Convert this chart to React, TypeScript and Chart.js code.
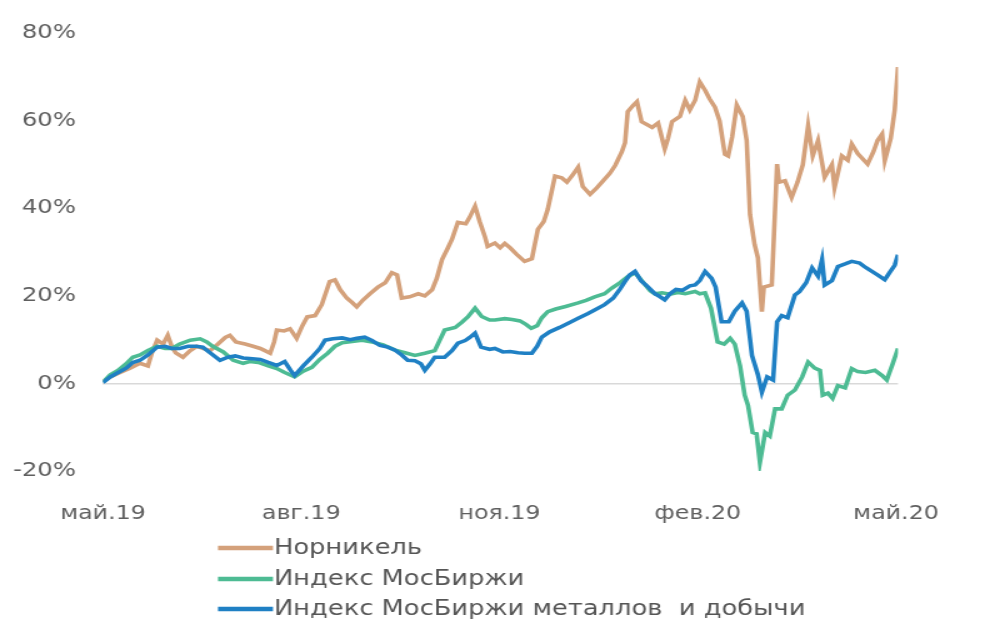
import React, { useEffect, useRef } from 'react';
import { Chart, registerables } from 'chart.js';

Chart.register(...registerables);

// ---- Data (x = months since May 2019, y = % change) ----
const XTICK_POS = [0, 3, 6, 9, 12];
const XTICK_LABELS = ['май.19', 'авг.19', 'ноя.19', 'фев.20', 'май.20'];
const YTICKS = [-20, 0, 20, 40, 60, 80];

const SERIES_NAMES = ['Норникель', 'Индекс МосБиржи', 'Индекс МосБиржи металлов  и добычи'];
const SERIES_COLORS = ['#D4A17B', '#4DBB93', '#1F80C4'];

const NORN_X = [0,0.11,0.26,0.41,0.56,0.68,0.74,0.82,0.91,0.98,1.04,1.10,1.21,1.32,1.42,1.51,1.62,1.74,1.85,1.92,2.01,2.15,2.27,2.38,2.45,2.53,2.59,2.63,2.74,2.83,2.93,3.01,3.09,3.21,3.31,3.43,3.51,3.59,3.69,3.77,3.84,3.93,4.04,4.16,4.27,4.37,4.45,4.52,4.64,4.77,4.87,4.98,5.05,5.13,5.22,5.28,5.37,5.49,5.55,5.63,5.70,5.78,5.82,5.93,6.01,6.08,6.16,6.26,6.38,6.49,6.58,6.67,6.73,6.84,6.94,7.02,7.10,7.19,7.26,7.37,7.46,7.55,7.67,7.75,7.85,7.90,7.94,8.02,8.08,8.15,8.25,8.31,8.40,8.50,8.55,8.61,8.73,8.81,8.88,8.96,9.03,9.11,9.18,9.26,9.33,9.41,9.46,9.52,9.59,9.68,9.74,9.79,9.86,9.91,9.97,10.00,10.12,10.20,10.23,10.32,10.42,10.51,10.59,10.67,10.74,10.82,10.92,11.03,11.07,11.18,11.27,11.33,11.42,11.57,11.66,11.72,11.79,11.83,11.92,11.98,12.03];
const NORN_Y = [0.5,1.5,2.5,3.5,4.6,4.0,7,9.9,9,11,8.5,7,6,7.5,8.5,8,7.5,9,10.5,11,9.5,9,8.5,8,7.5,6.9,9.5,12.2,12,12.5,10.3,13,15.2,15.5,18,23.3,23.7,21.4,19.5,18.5,17.5,19,20.5,22,23,25.3,24.8,19.5,19.8,20.5,20,21.4,24,28.3,31,32.9,36.8,36.5,38,40.5,37,33.5,31.3,32.1,31,32,31,29.5,27.9,28.5,35.2,37,39.8,47.4,47,46,47.5,49.4,45,43.2,44.5,46,48,49.8,52.9,55,62.1,63.5,64.4,59.8,59,58.5,59.5,53.6,56,59.8,61,64.7,62.5,64.7,68.9,67,65,63.1,60,52.4,52,56.3,63.6,61,55.5,38.6,31.7,28.7,16.4,22,22.5,50.1,46,46.3,42.5,46,50,58.9,52,55.5,47.1,50,44.7,52,51,54.7,52.5,50.1,53,55.5,57,50.9,56,62.4,72.3];

const IMOEX_X = [0,0.11,0.23,0.35,0.45,0.56,0.68,0.82,0.94,1.04,1.16,1.32,1.47,1.57,1.66,1.82,1.97,2.12,2.22,2.35,2.50,2.63,2.75,2.90,3.03,3.16,3.28,3.40,3.51,3.62,3.77,3.92,4.07,4.24,4.42,4.57,4.72,4.87,5.02,5.10,5.17,5.33,5.43,5.52,5.63,5.73,5.85,5.93,6.08,6.19,6.31,6.40,6.48,6.57,6.64,6.73,6.85,7.00,7.19,7.31,7.44,7.59,7.70,7.82,7.94,8.05,8.15,8.28,8.35,8.46,8.58,8.70,8.81,8.96,9.03,9.11,9.20,9.30,9.40,9.49,9.56,9.64,9.71,9.76,9.83,9.89,9.94,10.02,10.09,10.17,10.27,10.36,10.47,10.58,10.67,10.77,10.85,10.89,10.97,11.04,11.12,11.23,11.33,11.42,11.54,11.68,11.79,11.86,11.95,12.03];
const IMOEX_Y = [0.3,2,3,4.5,6,6.5,7.5,8.5,8,8,9,9.9,10.2,9.5,8.5,7.2,5.3,4.6,5,4.8,4,3.4,2.5,1.5,2.8,3.7,5.5,6.9,8.5,9.3,9.6,9.9,9.5,8.8,7.6,7,6.4,6.9,7.5,10,12.2,12.8,14,15.2,17.2,15.3,14.5,14.5,14.8,14.6,14.3,13.5,12.6,13.2,15,16.4,17,17.6,18.4,19,19.8,20.5,21.8,23,24.4,25.3,23.5,21.2,20.5,20.7,20.4,20.8,20.5,21,20.5,20.7,17.2,9.5,9,10.3,9,4,-2.7,-5,-11.2,-11.5,-18.1,-11.2,-12,-5.8,-5.8,-2.7,-1.5,1.5,4.9,3.5,3,-2.7,-2.2,-3.4,-0.5,-1,3.4,2.7,2.5,3,1.8,0.8,4.5,8];

const METAL_X = [0,0.11,0.23,0.35,0.45,0.56,0.68,0.82,0.94,1.04,1.16,1.29,1.41,1.51,1.62,1.77,1.89,2.00,2.12,2.22,2.38,2.50,2.63,2.75,2.84,2.90,3.03,3.16,3.28,3.36,3.48,3.62,3.74,3.84,3.96,4.07,4.19,4.31,4.42,4.52,4.61,4.72,4.81,4.87,4.95,5.02,5.17,5.28,5.37,5.48,5.55,5.63,5.72,5.85,5.93,6.05,6.16,6.28,6.38,6.49,6.57,6.64,6.76,6.91,7.07,7.19,7.34,7.44,7.59,7.72,7.82,7.90,7.97,8.05,8.14,8.25,8.35,8.43,8.50,8.58,8.67,8.77,8.88,8.96,9.03,9.11,9.21,9.27,9.36,9.47,9.56,9.67,9.74,9.82,9.91,9.97,10.05,10.14,10.20,10.27,10.36,10.47,10.54,10.64,10.73,10.82,10.88,10.92,11.03,11.12,11.23,11.33,11.45,11.54,11.72,11.83,11.91,11.98,12.03];
const METAL_Y = [0.2,1.5,2.5,3.5,4.8,5.3,6.5,8.3,8.5,8,8,8.5,8.5,8.3,7,5.3,6,6.3,5.8,5.7,5.5,4.8,4.1,5,3,1.8,4,6,8,9.9,10.2,10.4,10,10.3,10.6,9.8,8.7,8.3,7.6,6.5,5.3,5.2,4.5,3,4.5,6,6,7.5,9.2,9.8,10.5,11.5,8.3,7.8,8,7.2,7.3,7,6.9,6.9,8.5,10.6,11.8,12.8,14,14.9,16,16.8,18,19.5,21.5,23.3,24.8,25.6,23.5,22,20.5,19.8,19.1,20.5,21.5,21.3,22.3,22.5,23.5,25.6,24,22,14.1,14.1,16.5,18.4,16.5,6.4,2,-2,1.5,0.8,14.1,15.5,15,20.2,21,23,26.4,24.5,28.3,22.5,23.5,26.7,27.3,27.9,27.5,26.5,24.8,23.7,25.5,27,29.4];

// ---- Layout ----
const STRETCH = 1.25;
const PAGE_W = 1000;
const PAGE_H = 634;
const CW = PAGE_W / STRETCH;
const FONT = "'DejaVu Sans', sans-serif";
const TEXT = '#5F5F5F';

const pairs = (xs: number[], ys: number[]) => xs.map((x, i) => ({ x, y: ys[i] }));

const legendPlugin = {
  id: 'listLegend',
  afterDraw(chart: any) {
    const ctx = chart.ctx;
    const rows = [548, 579, 609];
    ctx.save();
    SERIES_NAMES.forEach((name, i) => {
      const y = rows[i];
      ctx.strokeStyle = SERIES_COLORS[i];
      ctx.lineWidth = 4.5;
      ctx.lineCap = 'butt';
      ctx.beginPath();
      ctx.moveTo(218 / STRETCH, y);
      ctx.lineTo(273 / STRETCH, y);
      ctx.stroke();
      ctx.fillStyle = '#555555';
      ctx.font = `20.6px ${FONT}`;
      ctx.textBaseline = 'middle';
      ctx.textAlign = 'left';
      ctx.fillText(name, 274 / STRETCH, y + 1);
    });
    ctx.restore();
  },
};

export default function App() {
  const ref = useRef<HTMLCanvasElement | null>(null);

  useEffect(() => {
    document.body.style.margin = '0';
    const canvas = ref.current;
    if (!canvas) return;
    const lastX = NORN_X[NORN_X.length - 1];
    const chart = new Chart(canvas, {
      type: 'line',
      data: {
        datasets: [
          {
            label: SERIES_NAMES[2],
            data: pairs(METAL_X, METAL_Y),
            borderColor: SERIES_COLORS[2],
            backgroundColor: SERIES_COLORS[2],
            borderWidth: 3.6,
            pointRadius: 0,
            tension: 0,
          },
          {
            label: SERIES_NAMES[1],
            data: pairs(IMOEX_X, IMOEX_Y),
            borderColor: SERIES_COLORS[1],
            backgroundColor: SERIES_COLORS[1],
            borderWidth: 3.6,
            pointRadius: 0,
            tension: 0,
          },
          {
            label: SERIES_NAMES[0],
            data: pairs(NORN_X, NORN_Y),
            borderColor: SERIES_COLORS[0],
            backgroundColor: SERIES_COLORS[0],
            borderWidth: 3.6,
            pointRadius: 0,
            tension: 0,
          },
        ],
      },
      options: {
        animation: false,
        responsive: false,
        maintainAspectRatio: false,
        layout: { padding: { top: 33, right: CW - 898 / STRETCH, left: 0, bottom: 0 } },
        plugins: { legend: { display: false }, tooltip: { enabled: false } },
        scales: {
          x: {
            type: 'linear',
            min: 0,
            max: lastX,
            afterBuildTicks: (s: any) => {
              s.ticks = XTICK_POS.map((v) => ({ value: v }));
            },
            afterFit: (s: any) => {
              s.height = PAGE_H - 471;
            },
            grid: { display: false, drawTicks: false },
            border: { display: false },
            ticks: {
              autoSkip: false,
              maxRotation: 0,
              padding: 32,
              color: TEXT,
              font: { family: FONT, size: 19 },
              callback: (v: any) => {
                const i = XTICK_POS.indexOf(Number(v));
                return i >= 0 ? XTICK_LABELS[i] : '';
              },
            },
          },
          y: {
            min: YTICKS[0],
            max: YTICKS[YTICKS.length - 1],
            afterBuildTicks: (s: any) => {
              s.ticks = YTICKS.map((v) => ({ value: v }));
            },
            afterFit: (s: any) => {
              s.width = 103 / STRETCH;
            },
            grid: {
              drawTicks: false,
              lineWidth: 1.6,
              color: (c: any) => (c.tick && c.tick.value === 0 ? '#D9D9D9' : 'rgba(0,0,0,0)'),
            },
            border: { display: false },
            ticks: {
              padding: 103 / STRETCH - 76 / STRETCH,
              color: TEXT,
              font: { family: FONT, size: 19.5 },
              callback: (v: any) => `${v}%`,
            },
          },
        },
      },
      plugins: [legendPlugin],
    });
    return () => chart.destroy();
  }, []);

  return (
    <div style={{ width: PAGE_W, height: PAGE_H, overflow: 'hidden', background: '#fff' }}>
      <div style={{ width: CW, height: PAGE_H, transform: `scaleX(${STRETCH})`, transformOrigin: '0 0' }}>
        <canvas ref={ref} width={CW} height={PAGE_H} style={{ display: 'block' }} />
      </div>
    </div>
  );
}
